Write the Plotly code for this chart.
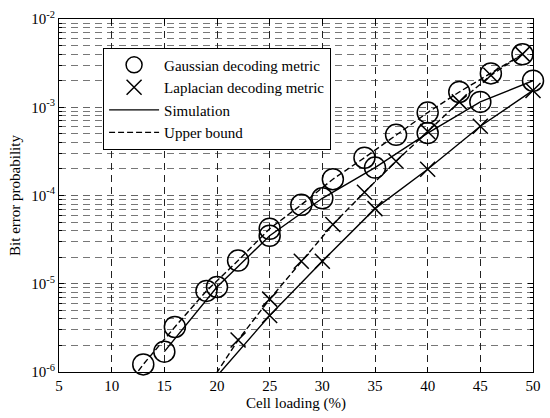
import plotly.graph_objects as go

# Cell loading (%) and bit error probability
gauss_ub_x = [10, 13, 16, 19, 22, 25, 28, 31, 34, 37, 40, 43, 46, 49]
gauss_ub_y = [4e-7, 1.22e-6, 3.24e-6, 8.3e-6, 1.83e-5, 4.2e-5, 7.85e-5, 1.53e-4,
              2.68e-4, 4.87e-4, 8.7e-4, 1.49e-3, 2.42e-3, 3.98e-3]

gauss_sim_x = [15, 20, 25, 30, 35, 40, 45, 50]
gauss_sim_y = [1.7e-6, 9.2e-6, 3.5e-5, 9.3e-5, 2.07e-4, 5.1e-4, 1.15e-3, 2.0e-3]

lap_ub_x = [19, 22, 25, 28, 31, 34, 37, 40, 43, 46, 49]
lap_ub_y = [6.5e-7, 2.3e-6, 6.7e-6, 1.8e-5, 4.7e-5, 1.09e-4, 2.45e-4, 5.3e-4,
            1.15e-3, 2.3e-3, 4.0e-3]

lap_sim_x = [20, 25, 30, 35, 40, 45, 50]
lap_sim_y = [9e-7, 4.37e-6, 1.8e-5, 7.1e-5, 1.98e-4, 6.1e-4, 1.55e-3]

x_ticks = [5, 10, 15, 20, 25, 30, 35, 40, 45, 50]
y_ticks = [1e-6, 1e-5, 1e-4, 1e-3, 1e-2]
y_ticktext = ["10<sup>-6</sup>", "10<sup>-5</sup>", "10<sup>-4</sup>",
              "10<sup>-3</sup>", "10<sup>-2</sup>"]
legend_labels = ["Gaussian decoding metric", "Laplacian decoding metric",
                 "Simulation", "Upper bound"]

Y_MIN, Y_MAX = 1e-6, 1e-2
FONT = "Liberation Serif, Times New Roman, serif"
FS = 15

fig = go.Figure()


def add_series(x, y, dash, symbol, size):
    opac = [1 if Y_MIN <= v <= Y_MAX else 0 for v in y]
    fig.add_trace(go.Scatter(
        x=x, y=y, mode="lines+markers",
        line=dict(color="black", width=1.4, dash=dash),
        marker=dict(symbol=symbol, size=size, color="black", opacity=opac,
                    line=dict(width=1.5, color="black")),
        showlegend=False, cliponaxis=False, hoverinfo="x+y"))


CIRCLE = "circle-open"
XSYM = "x-thin-open"
DASH = "6px,3px"
CIRCLE_SIZE = 21
X_SIZE = 15

add_series(gauss_ub_x, gauss_ub_y, DASH, CIRCLE, CIRCLE_SIZE)
add_series(gauss_sim_x, gauss_sim_y, "solid", CIRCLE, CIRCLE_SIZE)
add_series(lap_ub_x, lap_ub_y, DASH, XSYM, X_SIZE)
add_series(lap_sim_x, lap_sim_y, "solid", XSYM, X_SIZE)

# legend entries
fig.add_trace(go.Scatter(x=[None], y=[None], mode="markers", name=legend_labels[0],
                         marker=dict(symbol=CIRCLE, size=CIRCLE_SIZE, color="black",
                                     line=dict(width=1.5, color="black"))))
fig.add_trace(go.Scatter(x=[None], y=[None], mode="markers", name=legend_labels[1],
                         marker=dict(symbol=XSYM, size=X_SIZE, color="black",
                                     line=dict(width=1.5, color="black"))))
fig.add_trace(go.Scatter(x=[None], y=[None], mode="lines", name=legend_labels[2],
                         line=dict(color="black", width=1.4)))
fig.add_trace(go.Scatter(x=[None], y=[None], mode="lines", name=legend_labels[3],
                         line=dict(color="black", width=1.4, dash=DASH)))

minor_y = [m * 10.0 ** e for e in range(-6, -2) for m in range(2, 10)]

fig.update_layout(
    width=550, height=418,
    margin=dict(l=59, r=9, t=18, b=42),
    paper_bgcolor="white", plot_bgcolor="white",
    font=dict(family=FONT, size=FS, color="black"),
    legend=dict(x=0.093, y=0.919, xanchor="left", yanchor="top",
                bgcolor="white", bordercolor="black", borderwidth=1,
                font=dict(family=FONT, size=FS), tracegroupgap=0,
                itemsizing="trace", itemwidth=50),
    xaxis=dict(range=[5, 50], tickvals=x_ticks, ticks="inside", ticklen=5,
               tickcolor="black", showline=True, linecolor="black", linewidth=1,
               mirror="allticks", showgrid=True, gridcolor="#222",
               griddash="7px,5px", gridwidth=1, zeroline=False,
               tickfont=dict(size=FS), ticklabeloverflow="allow",
               title=dict(text="Cell loading (%)", font=dict(size=FS), standoff=4)),
    yaxis=dict(type="log", range=[-6, -2], tickvals=y_ticks, ticktext=y_ticktext,
               ticks="inside", ticklen=5, tickcolor="black", showline=True,
               linecolor="black", linewidth=1, mirror="allticks", showgrid=True,
               gridcolor="#666", griddash="7px,5px", gridwidth=1, zeroline=False,
               tickfont=dict(size=FS), ticklabeloverflow="allow",
               minor=dict(tickvals=minor_y, ticks="inside", ticklen=3,
                          tickcolor="black", showgrid=True, gridcolor="#777",
                          griddash="7px,5px", gridwidth=1),
               title=dict(text="Bit error probability", font=dict(size=FS),
                          standoff=7)),
)

# remove the page's default body margin so the figure fills the window exactly
fig.write_html("out.html", config={"displayModeBar": False},
               post_script="document.body.style.margin='0';")
